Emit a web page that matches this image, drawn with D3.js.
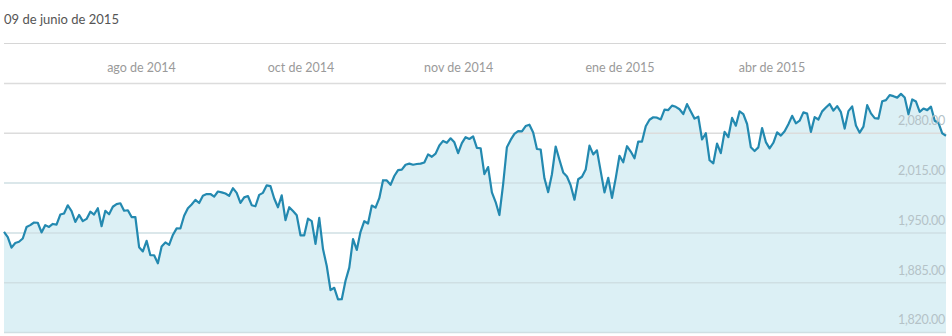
<!DOCTYPE html>
<html>
<head>
<meta charset="utf-8">
<script src="https://cdn.jsdelivr.net/npm/d3@7"></script>
<style>
  body { margin: 0; background: #fff; }
  svg { display: block; font-family: Lato, "Open Sans", sans-serif; }
</style>
</head>
<body>
<script>
const WIDTH = 952;
const HEIGHT = 336;
const FONT = "Lato, 'Open Sans', sans-serif";

const title = "09 de junio de 2015";

// daily closes, 10 jun 2014 -> 09 jun 2015 (one per trading day)
const closes = [
  1950.8, 1943.9, 1930.1, 1936.2, 1937.8, 1942.0, 1957.0, 1959.5, 1962.9, 1962.6,
  1950.0, 1959.5, 1957.2, 1961.0, 1960.2,
  1973.3, 1974.6, 1985.4, 1977.7, 1963.7, 1972.8, 1964.7, 1967.6, 1977.1, 1973.3,
  1981.6, 1958.1, 1978.2, 1973.6, 1983.5, 1987.0, 1988.0, 1978.3, 1978.9, 1970.0,
  1970.1, 1930.7,
  1925.2, 1939.0, 1920.2, 1920.2, 1909.6, 1931.6, 1936.9, 1933.8, 1946.7, 1955.2,
  1955.1, 1971.7, 1981.6, 1986.5, 1992.4, 1988.4, 1997.9, 2000.0, 2000.1, 1996.7,
  2003.4,
  2002.3, 2000.7, 1997.7, 2007.7, 2001.5, 1988.4, 1995.7, 1997.5, 1985.5, 1984.1,
  1999.0, 2001.6, 2011.4, 2010.4, 1994.3, 1982.8, 1998.3, 1966.0, 1982.9, 1977.8,
  1972.3,
  1946.2, 1946.2, 1967.9, 1964.8, 1935.1, 1968.9, 1928.2, 1906.1, 1874.7, 1877.7,
  1862.5, 1862.8, 1886.8, 1904.0, 1941.3, 1927.1, 1950.8, 1964.6, 1961.6, 1985.1,
  1982.3, 1994.7, 2018.1,
  2017.8, 2012.1, 2023.6, 2031.2, 2031.9, 2038.3, 2039.7, 2038.3, 2039.3, 2039.8,
  2041.3, 2051.8, 2048.7, 2052.8, 2063.5, 2069.4, 2067.0, 2072.8, 2067.6,
  2053.4, 2066.6, 2074.3, 2071.9, 2075.4, 2060.3, 2059.8, 2026.1, 2035.3, 2002.3,
  1989.6, 1972.7, 2012.9, 2061.2, 2070.7, 2078.5, 2082.2, 2081.9, 2088.8, 2090.6,
  2080.4, 2058.9,
  2058.2, 2020.6, 2002.6, 2025.9, 2062.1, 2044.8, 2028.3, 2023.0, 2011.3, 1992.7,
  2019.4, 2022.6, 2032.1, 2063.2, 2051.8, 2057.1, 2029.6, 2002.2, 2021.3, 1995.0,
  2020.9, 2050.0, 2041.5, 2062.5, 2055.5, 2046.7, 2068.6, 2068.5, 2088.5, 2097.0,
  2100.3, 2099.7, 2097.5, 2110.3, 2109.7, 2115.5, 2113.9, 2110.7, 2104.5,
  2117.4, 2107.8, 2098.5, 2101.0, 2071.3, 2079.4, 2044.2, 2040.2, 2066.0, 2053.4,
  2081.2, 2074.3, 2099.5, 2089.3, 2108.1, 2104.4, 2091.5, 2061.1, 2056.2, 2061.0,
  2086.2, 2067.9,
  2059.7, 2067.0, 2080.6, 2076.3, 2081.9, 2091.2, 2102.1, 2092.4, 2095.8, 2106.6,
  2105.0, 2081.2, 2100.4, 2097.3, 2108.0, 2112.9, 2117.7, 2108.9, 2114.8, 2106.9,
  2085.5,
  2108.3, 2114.5, 2089.5, 2080.2, 2088.0, 2116.1, 2105.3, 2099.1, 2098.5, 2121.1,
  2122.7, 2129.2, 2127.8, 2125.9, 2130.8, 2126.1, 2104.2, 2123.5, 2120.8, 2107.4,
  2111.7, 2109.6, 2114.1, 2095.8, 2092.8, 2079.3, 2076.2
];

// x axis labels (placed on trading-day index)
const monthTicks = [36.5, 79, 121, 164, 204.5];
const monthLabels = ["ago de 2014", "oct de 2014", "nov de 2014", "ene de 2015", "abr de 2015"];

const yTicks = [1820, 1885, 1950, 2015, 2080, 2145];

const plotLeft = 4, plotRight = 946, plotTop = 83, plotBottom = 332;

const x = d3.scaleLinear()
  .domain([0, closes.length - 1])
  .range([plotLeft, plotRight]);

const y = d3.scaleLinear()
  .domain([1820, 2145])
  .range([plotBottom, plotTop]);

const svg = d3.select("body")
  .append("svg")
  .attr("width", WIDTH)
  .attr("height", HEIGHT);

svg.append("text")
  .attr("x", 4)
  .attr("y", 24)
  .attr("fill", "#555")
  .style("font-size", "13px")
  .text(title);

svg.append("line")
  .attr("x1", 4).attr("x2", plotRight)
  .attr("y1", 43.5).attr("y2", 43.5)
  .attr("stroke", "#d6d6d6");

// area
const area = d3.area()
  .x((d, i) => x(i))
  .y0(plotBottom)
  .y1(d => y(d));

svg.append("path")
  .datum(closes)
  .attr("d", area)
  .attr("fill", "#dcf0f5");

// horizontal grid
const grid = svg.append("g")
  .attr("transform", `translate(${plotLeft},0)`)
  .call(d3.axisRight(y).tickValues(yTicks).tickSize(plotRight - plotLeft).tickFormat(""));
grid.select(".domain").remove();
grid.selectAll(".tick line")
  .attr("stroke", "#cfdfe3")
  .attr("stroke-width", 1.5)
  .filter(d => d === 2145 || d === 2080)
  .attr("stroke", "#dcdcdc");

// line
const line = d3.line()
  .x((d, i) => x(i))
  .y(d => y(d));

svg.append("path")
  .datum(closes)
  .attr("d", line)
  .attr("fill", "none")
  .attr("stroke", "#2389b0")
  .attr("stroke-width", 2.2)
  .attr("stroke-linejoin", "round");

// y labels
const yAxis = svg.append("g")
  .attr("transform", `translate(${plotRight - 1},0)`)
  .attr("font-family", FONT)
  .call(d3.axisLeft(y)
    .tickValues(yTicks.filter(d => d !== 2145))
    .tickSize(0)
    .tickFormat(d3.format(",.2f")));
yAxis.attr("font-family", FONT);
yAxis.select(".domain").remove();
yAxis.selectAll("text")
  .attr("x", 0)
  .attr("dy", "-0.65em")
  .attr("fill", "#b4c2c7")
  .style("font-family", FONT)
  .style("font-size", "12.5px")
  .style("letter-spacing", "-0.3px");

// x labels on top
const xAxis = svg.append("g")
  .attr("transform", `translate(0,${plotTop})`)
  .call(d3.axisTop(x)
    .tickValues(monthTicks)
    .tickSize(0)
    .tickFormat((d, i) => monthLabels[i]));
xAxis.select(".domain").remove();
xAxis.selectAll("text")
  .attr("y", -11)
  .attr("fill", "#9a9a9a")
  .style("font-family", FONT)
  .style("font-size", "12.5px");
</script>
</body>
</html>
